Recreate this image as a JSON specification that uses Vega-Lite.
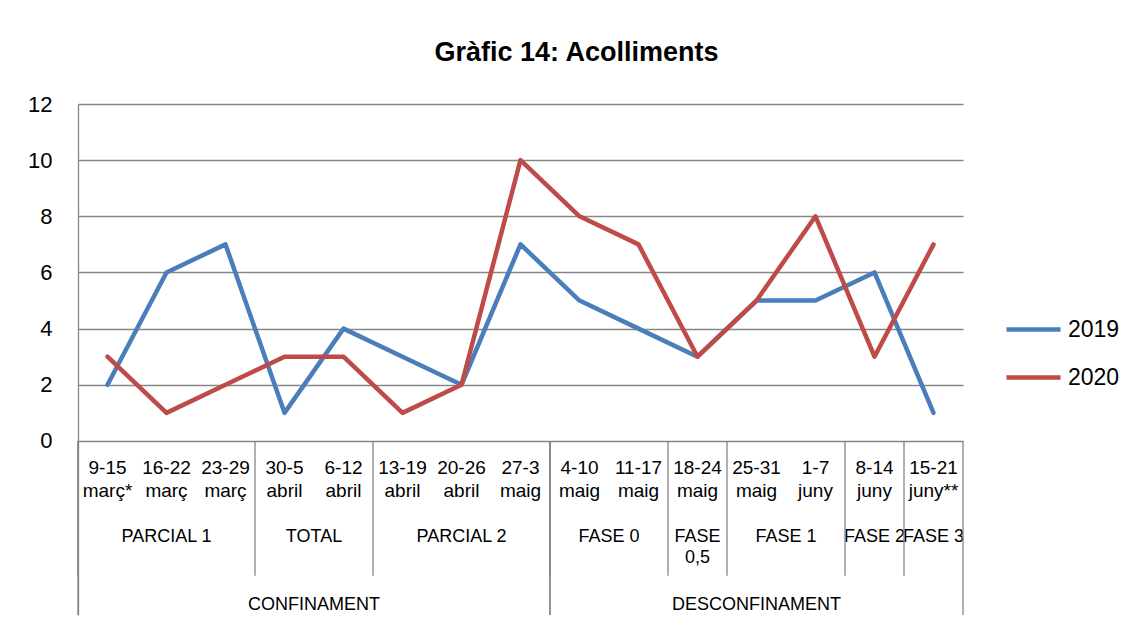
{
  "$schema": "https://vega.github.io/schema/vega-lite/v6.json",
  "width": 885,
  "height": 511,
  "autosize": {"type": "none"},
  "padding": {"left": 78, "top": 104, "right": 168, "bottom": 8},
  "background": "white",
  "config": {"font": "Liberation Sans", "view": {"stroke": null}},
  "title": {
    "text": "Gràfic 14: Acolliments",
    "fontSize": 27,
    "fontWeight": "bold",
    "color": "#000000",
    "anchor": "middle",
    "frame": "group",
    "dx": 56,
    "offset": 5,
    "baseline": "alphabetic"
  },
  "datasets": {
    "cats": [
      {"idx": 0, "week": "9-15\nmarç*", "phase": "PARCIAL 1", "stage": "CONFINAMENT"},
      {"idx": 1, "week": "16-22\nmarç", "phase": "PARCIAL 1", "stage": "CONFINAMENT"},
      {"idx": 2, "week": "23-29\nmarç", "phase": "PARCIAL 1", "stage": "CONFINAMENT"},
      {"idx": 3, "week": "30-5\nabril", "phase": "TOTAL", "stage": "CONFINAMENT"},
      {"idx": 4, "week": "6-12\nabril", "phase": "TOTAL", "stage": "CONFINAMENT"},
      {"idx": 5, "week": "13-19\nabril", "phase": "PARCIAL 2", "stage": "CONFINAMENT"},
      {"idx": 6, "week": "20-26\nabril", "phase": "PARCIAL 2", "stage": "CONFINAMENT"},
      {"idx": 7, "week": "27-3\nmaig", "phase": "PARCIAL 2", "stage": "CONFINAMENT"},
      {"idx": 8, "week": "4-10\nmaig", "phase": "FASE 0", "stage": "DESCONFINAMENT"},
      {"idx": 9, "week": "11-17\nmaig", "phase": "FASE 0", "stage": "DESCONFINAMENT"},
      {"idx": 10, "week": "18-24\nmaig", "phase": "FASE\n0,5", "stage": "DESCONFINAMENT"},
      {"idx": 11, "week": "25-31\nmaig", "phase": "FASE 1", "stage": "DESCONFINAMENT"},
      {"idx": 12, "week": "1-7\njuny", "phase": "FASE 1", "stage": "DESCONFINAMENT"},
      {"idx": 13, "week": "8-14\njuny", "phase": "FASE 2", "stage": "DESCONFINAMENT"},
      {"idx": 14, "week": "15-21\njuny**", "phase": "FASE 3", "stage": "DESCONFINAMENT"}
    ],
    "points": [
      {"idx": 0, "year": "2019", "value": 2},
      {"idx": 1, "year": "2019", "value": 6},
      {"idx": 2, "year": "2019", "value": 7},
      {"idx": 3, "year": "2019", "value": 1},
      {"idx": 4, "year": "2019", "value": 4},
      {"idx": 5, "year": "2019", "value": 3},
      {"idx": 6, "year": "2019", "value": 2},
      {"idx": 7, "year": "2019", "value": 7},
      {"idx": 8, "year": "2019", "value": 5},
      {"idx": 9, "year": "2019", "value": 4},
      {"idx": 10, "year": "2019", "value": 3},
      {"idx": 11, "year": "2019", "value": 5},
      {"idx": 12, "year": "2019", "value": 5},
      {"idx": 13, "year": "2019", "value": 6},
      {"idx": 14, "year": "2019", "value": 1},
      {"idx": 0, "year": "2020", "value": 3},
      {"idx": 1, "year": "2020", "value": 1},
      {"idx": 2, "year": "2020", "value": 2},
      {"idx": 3, "year": "2020", "value": 3},
      {"idx": 4, "year": "2020", "value": 3},
      {"idx": 5, "year": "2020", "value": 1},
      {"idx": 6, "year": "2020", "value": 2},
      {"idx": 7, "year": "2020", "value": 10},
      {"idx": 8, "year": "2020", "value": 8},
      {"idx": 9, "year": "2020", "value": 7},
      {"idx": 10, "year": "2020", "value": 3},
      {"idx": 11, "year": "2020", "value": 5},
      {"idx": 12, "year": "2020", "value": 8},
      {"idx": 13, "year": "2020", "value": 3},
      {"idx": 14, "year": "2020", "value": 7}
    ]
  },
  "layer": [
    {
      "data": {"name": "points"},
      "mark": {"type": "line", "strokeWidth": 4.5, "strokeCap": "round", "strokeJoin": "round"},
      "encoding": {
        "x": {"field": "idx", "type": "quantitative", "scale": {"domain": [-0.5, 14.5], "nice": false, "zero": false}, "axis": null},
        "y": {
          "field": "value",
          "type": "quantitative",
          "scale": {"domain": [-6.2, 12], "nice": false, "zero": false},
          "axis": {
            "values": [0, 2, 4, 6, 8, 10, 12],
            "title": null,
            "ticks": false,
            "labelFontSize": 22,
            "labelPadding": 26,
            "labelColor": "#000000",
            "domainColor": "#868686",
            "domainWidth": 1.3,
            "grid": true,
            "gridColor": "#868686",
            "gridWidth": 1.3,
            "gridOpacity": 1
          }
        },
        "color": {
          "field": "year",
          "type": "nominal",
          "scale": {"domain": ["2019", "2020"], "range": ["#4A7EBB", "#BE4B48"]},
          "legend": {
            "title": null,
            "orient": "none",
            "legendX": 926,
            "legendY": 196,
            "padding": 0,
            "symbolType": "stroke",
            "symbolSize": 2916,
            "symbolStrokeWidth": 4.5,
            "labelFontSize": 23,
            "labelOffset": 5,
            "labelColor": "#000000",
            "rowPadding": 6
          }
        }
      }
    },
    {
      "data": {"name": "cats"},
      "mark": {"type": "text", "baseline": "top", "align": "center", "fontSize": 19, "lineHeight": 23, "lineBreak": "\n", "color": "#000000"},
      "encoding": {
        "x": {"field": "idx", "type": "quantitative"},
        "y": {"datum": -0.63},
        "text": {"field": "week"}
      }
    },
    {
      "data": {"name": "cats"},
      "transform": [{"aggregate": [{"op": "mean", "field": "idx", "as": "center"}], "groupby": ["phase"]}],
      "mark": {"type": "text", "baseline": "top", "align": "center", "fontSize": 18, "lineHeight": 21, "lineBreak": "\n", "color": "#000000"},
      "encoding": {
        "x": {"field": "center", "type": "quantitative"},
        "y": {"datum": -3.11},
        "text": {"field": "phase"}
      }
    },
    {
      "data": {"name": "cats"},
      "transform": [{"aggregate": [{"op": "mean", "field": "idx", "as": "center"}], "groupby": ["stage"]}],
      "mark": {"type": "text", "baseline": "top", "align": "center", "fontSize": 18, "color": "#000000"},
      "encoding": {
        "x": {"field": "center", "type": "quantitative"},
        "y": {"datum": -5.51},
        "text": {"field": "stage"}
      }
    },
    {
      "data": {"name": "cats"},
      "transform": [
        {"aggregate": [{"op": "min", "field": "idx", "as": "first"}], "groupby": ["phase"]},
        {"calculate": "datum.first - 0.5", "as": "edge"}
      ],
      "mark": {"type": "rule", "color": "#868686", "strokeWidth": 1.3},
      "encoding": {
        "x": {"field": "edge", "type": "quantitative"},
        "y": {"datum": 0},
        "y2": {"datum": -4.8}
      }
    },
    {
      "data": {"name": "cats"},
      "transform": [
        {"aggregate": [{"op": "min", "field": "idx", "as": "first"}, {"op": "max", "field": "idx", "as": "last"}], "groupby": ["stage"]},
        {"calculate": "datum.first - 0.5", "as": "startEdge"},
        {"calculate": "datum.last + 0.5", "as": "endEdge"},
        {"fold": ["startEdge", "endEdge"], "as": ["side", "edge"]}
      ],
      "mark": {"type": "rule", "color": "#868686", "strokeWidth": 1.3},
      "encoding": {
        "x": {"field": "edge", "type": "quantitative"},
        "y": {"datum": 0},
        "y2": {"datum": -6.2}
      }
    }
  ]
}
